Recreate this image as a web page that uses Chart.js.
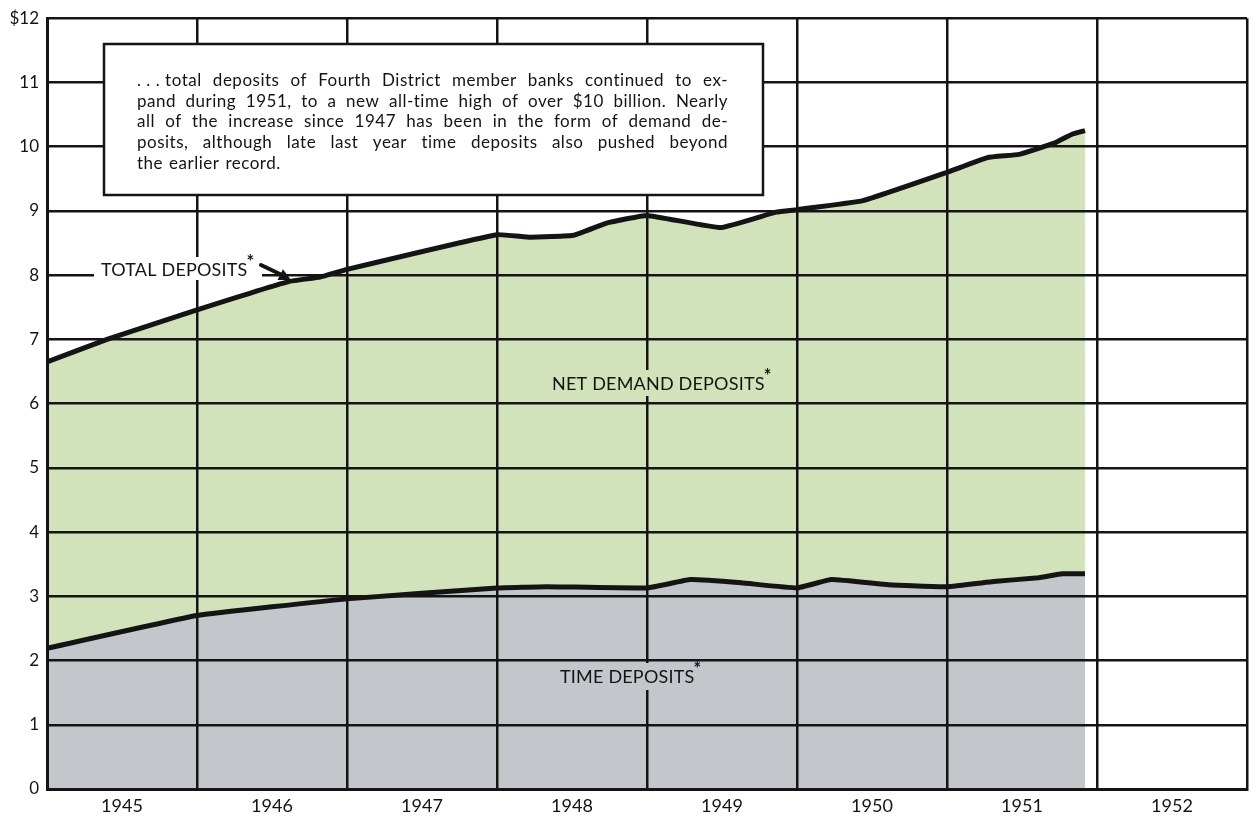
<!DOCTYPE html>
<html>
<head>
<meta charset="utf-8">
<script src="https://cdn.jsdelivr.net/npm/chart.js@4.4.1/dist/chart.umd.min.js"></script>
<style>
  html, body { margin: 0; padding: 0; background: #ffffff; }
  #wrap { width: 1253px; height: 816px; position: relative; }
</style>
</head>
<body>
<div id="wrap"><canvas id="c" width="1253" height="816"></canvas></div>
<script>
// ---- Data ----
const totalYears  = [1945.0, 1945.4, 1946.0, 1946.61, 1946.82, 1947.0, 1948.0, 1948.22, 1948.51, 1948.73, 1949.0, 1949.49, 1949.86, 1950.0, 1950.44, 1951.0, 1951.27, 1951.48, 1951.72, 1951.83, 1951.92];
const totalValues = [6.65, 7.0, 7.46, 7.9, 7.97, 8.09, 8.63, 8.59, 8.62, 8.81, 8.93, 8.74, 8.98, 9.02, 9.16, 9.6, 9.83, 9.88, 10.06, 10.19, 10.25];

const timeYears  = [1945.0, 1946.0, 1947.0, 1948.0, 1948.33, 1949.0, 1949.29, 1949.63, 1950.0, 1950.23, 1950.61, 1951.0, 1951.31, 1951.61, 1951.77, 1951.92];
const timeValues = [2.19, 2.70, 2.96, 3.13, 3.15, 3.13, 3.26, 3.21, 3.13, 3.26, 3.18, 3.15, 3.23, 3.29, 3.35, 3.35];

const yearLabels = ['1945', '1946', '1947', '1948', '1949', '1950', '1951', '1952'];
const yTickLabels = ['0', '1', '2', '3', '4', '5', '6', '7', '8', '9', '10', '11', '$12'];

const labelTotal = 'TOTAL DEPOSITS';
const labelDemand = 'NET DEMAND DEPOSITS';
const labelTime = 'TIME DEPOSITS';
const noteLines = [
  ['. . . total', 'deposits', 'of', 'Fourth', 'District', 'member', 'banks', 'continued', 'to', 'ex-'],
  ['pand', 'during', '1951,', 'to', 'a', 'new', 'all-time', 'high', 'of', 'over', '$10', 'billion.', 'Nearly'],
  ['all', 'of', 'the', 'increase', 'since', '1947', 'has', 'been', 'in', 'the', 'form', 'of', 'demand', 'de-'],
  ['posits,', 'although', 'late', 'last', 'year', 'time', 'deposits', 'also', 'pushed', 'beyond'],
  ['the', 'earlier', 'record.']
];

// ---- Styles ----
const INK = '#141414';
const GREEN = '#d2e3bb';
const GRAY = '#c3c7cb';
const FONT = 'Lato, "Open Sans", sans-serif';

const annotPlugin = {
  id: 'annot',
  afterDraw(chart) {
    const ctx = chart.ctx;
    ctx.save();

    function label(text, x, yMid, size, bg, bgRect) {
      if (bg) {
        ctx.fillStyle = bg;
        ctx.fillRect(bgRect[0], bgRect[1], bgRect[2], bgRect[3]);
      }
      ctx.fillStyle = INK;
      ctx.textBaseline = 'middle';
      ctx.textAlign = 'left';
      ctx.font = size + 'px ' + FONT;
      try { ctx.letterSpacing = '0.2px'; } catch (e) {}
      ctx.fillText(text, x, yMid);
      const w = ctx.measureText(text).width;
      try { ctx.letterSpacing = '0px'; } catch (e) {}
      ctx.font = 'bold ' + Math.round(size * 1.0) + 'px ' + FONT;
      ctx.fillText('*', x + w - 1, yMid - size * 0.45);
    }

    // TOTAL DEPOSITS label with arrow
    label(labelTotal, 101, 270, 18, '#ffffff', [94, 257, 168, 23]);
    ctx.strokeStyle = INK;
    ctx.fillStyle = INK;
    ctx.lineWidth = 4;
    ctx.lineCap = 'round';
    const tx = 261, ty = 265, hx = 291, hy = 280;
    ctx.beginPath();
    ctx.moveTo(tx, ty);
    ctx.lineTo(hx - 7, hy - 4);
    ctx.stroke();
    const ang = Math.atan2(hy - ty, hx - tx);
    ctx.beginPath();
    ctx.moveTo(hx, hy);
    ctx.lineTo(hx - 12 * Math.cos(ang) + 6 * Math.sin(ang), hy - 12 * Math.sin(ang) - 6 * Math.cos(ang));
    ctx.lineTo(hx - 12 * Math.cos(ang) - 6 * Math.sin(ang), hy - 12 * Math.sin(ang) + 6 * Math.cos(ang));
    ctx.closePath();
    ctx.fill();

    // NET DEMAND DEPOSITS label
    label(labelDemand, 552, 384, 18, GREEN, [546, 370, 228, 26]);
    // TIME DEPOSITS label
    label(labelTime, 560, 677, 18, GRAY, [554, 663, 148, 27]);

    // Note box
    ctx.fillStyle = '#ffffff';
    ctx.fillRect(104, 44, 659, 151);
    ctx.strokeStyle = INK;
    ctx.lineWidth = 2.5;
    ctx.strokeRect(104, 44, 659, 151);

    ctx.fillStyle = INK;
    ctx.font = '17px ' + FONT;
    try { ctx.letterSpacing = '0.5px'; } catch (e) {}
    ctx.textBaseline = 'alphabetic';
    ctx.textAlign = 'left';
    const left = 137, right = 728;
    const baselines = [86, 106.5, 127, 148, 169];
    noteLines.forEach((words, i) => {
      const widths = words.map(w => ctx.measureText(w).width);
      const total = widths.reduce((a, b) => a + b, 0);
      const last = i === noteLines.length - 1;
      const gap = last ? 6 : (right - left - total) / (words.length - 1);
      let x = left;
      words.forEach((w, j) => {
        ctx.fillText(w, x, baselines[i]);
        x += widths[j] + gap;
      });
    });
    try { ctx.letterSpacing = '0px'; } catch (e) {}

    ctx.restore();
  }
};

new Chart(document.getElementById('c'), {
  type: 'line',
  data: {
    datasets: [
      {
        label: 'Time deposits',
        data: timeYears.map((x, i) => ({ x: x, y: timeValues[i] })),
        borderColor: INK,
        borderWidth: 5,
        backgroundColor: GRAY,
        fill: 'origin',
        pointRadius: 0,
        tension: 0.1
      },
      {
        label: 'Total deposits',
        data: totalYears.map((x, i) => ({ x: x, y: totalValues[i] })),
        borderColor: INK,
        borderWidth: 5,
        backgroundColor: GREEN,
        fill: '-1',
        pointRadius: 0,
        tension: 0.1
      }
    ]
  },
  options: {
    responsive: false,
    animation: false,
    layout: { padding: { top: 15, right: 3, left: 0, bottom: 0 } },
    plugins: {
      legend: { display: false },
      tooltip: { enabled: false }
    },
    scales: {
      x: {
        type: 'linear',
        min: 1945,
        max: 1953,
        ticks: {
          z: 1,
          stepSize: 0.5,
          autoSkip: false,
          maxRotation: 0,
          padding: 6,
          color: INK,
          font: { family: FONT, size: 18 },
          callback: (v) => (v % 1 !== 0 ? yearLabels[Math.floor(v) - 1945] : '')
        },
        grid: {
          z: 1,
          color: (c) => (c.tick && c.tick.value % 1 === 0 ? INK : 'rgba(0,0,0,0)'),
          lineWidth: 2.5,
          drawTicks: false
        },
        border: { z: 1, color: INK, width: 3 },
        afterFit(s) { s.height = 27; }
      },
      y: {
        type: 'linear',
        min: 0,
        max: 12,
        ticks: {
          z: 1,
          stepSize: 1,
          padding: 8,
          color: INK,
          font: { family: FONT, size: 17 },
          callback: (v) => yTickLabels[v]
        },
        grid: { z: 1, color: INK, lineWidth: 2.5, drawTicks: false },
        border: { z: 1, color: INK, width: 3 },
        afterFit(s) { s.width = 47; }
      }
    }
  },
  plugins: [annotPlugin]
});
</script>
</body>
</html>
